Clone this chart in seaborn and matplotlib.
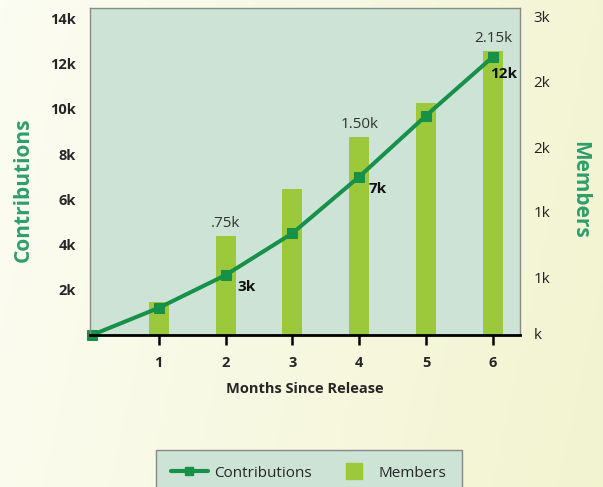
import numpy as np
import pandas as pd
import seaborn as sns
import matplotlib.pyplot as plt
from matplotlib.lines import Line2D

# data
months = [0, 1, 2, 3, 4, 5, 6]
contributions = [0, 1200, 2650, 4500, 7000, 9700, 12300]
bar_months = [1, 2, 3, 4, 5, 6]
members = [250, 750, 1110, 1500, 1760, 2150]

contrib_ticks = [2000, 4000, 6000, 8000, 10000, 12000, 14000]
contrib_labels = ["2k", "4k", "6k", "8k", "10k", "12k", "14k"]
member_ticks = [15, 440, 940, 1425, 1925, 2415]
member_labels = ["k", "1k", "1k", "2k", "2k", "3k"]

bar_notes = {2: ".75k", 4: "1.50k", 6: "2.15k"}
line_notes = {2: "3k", 4: "7k", 6: "12k"}
line_note_offsets = {2: (12, -12), 4: (9, -12), 6: (-3, -17)}

line_color = "#17904a"
bar_color = "#9cc93c"
face = "#cce3d6"
label_green = "#2e9e6c"

sns.set_theme(style="white")
plt.rcParams["font.family"] = ["Open Sans", "DejaVu Sans"]

fig = plt.figure(figsize=(6.03, 4.87), dpi=100)

# soft background gradient, light on the left, pale yellow on the right
bg = fig.add_axes([0, 0, 1, 1], zorder=-10)
gx, gy = np.meshgrid(np.linspace(0, 1, 200), np.linspace(0, 1, 200))
t = np.clip(gx * 0.85 + gy * 0.15, 0, 1)[..., None]
c0 = np.array([0.988, 0.992, 0.95])
c1 = np.array([0.95, 0.955, 0.815])
bg.imshow(c0 * (1 - t) + c1 * t, aspect="auto", extent=[0, 1, 0, 1], origin="upper")
bg.set_axis_off()

ax = fig.add_axes([0.149, 0.312, 0.713, 0.671])
ax2 = ax.twinx()

df_bar = pd.DataFrame({"month": bar_months, "members": members})
sns.barplot(data=df_bar, x="month", y="members", native_scale=True, width=0.3,
            color=bar_color, saturation=1, errorbar=None, linewidth=0,
            edgecolor=bar_color, ax=ax2)

df_line = pd.DataFrame({"month": months, "contributions": contributions})
sns.lineplot(data=df_line, x="month", y="contributions", ax=ax, color=line_color,
             lw=2.9, marker="s", markersize=6.5, markeredgecolor=line_color,
             clip_on=False)

ax.set_zorder(ax2.get_zorder() + 1)
ax.patch.set_visible(False)
ax2.patch.set_visible(True)
ax2.set_facecolor(face)

ax.set_xlim(-0.03, 6.4)
ax.set_ylim(0, 14440)
ax2.set_ylim(0, 2477)

ax.set_xticks(bar_months)
ax.set_xticklabels([str(m) for m in bar_months], fontweight="bold", fontsize=10.5)
ax.set_yticks(contrib_ticks)
ax.set_yticklabels(contrib_labels, fontweight="bold", fontsize=10.5)
ax2.set_yticks(member_ticks)
ax2.set_yticklabels(member_labels, fontsize=11, color="#222222")

ax.tick_params(axis="x", direction="out", length=7, width=1.8, color="black", pad=8,
               bottom=True)
ax.tick_params(axis="y", length=0, pad=10)
ax2.tick_params(axis="y", length=0, pad=10)

for s in ["left", "top", "right"]:
    ax.spines[s].set_color("#8a8a8a")
    ax.spines[s].set_linewidth(1)
ax.spines["bottom"].set_color("black")
ax.spines["bottom"].set_linewidth(2)
for s in ax2.spines.values():
    s.set_visible(False)

ax.set_xlabel("Months Since Release", fontweight="bold", fontsize=10.5, labelpad=9)
ax.set_ylabel("")
ax2.set_ylabel("")
fig.text(0.038, 0.61, "Contributions", rotation=90, ha="center", va="center",
         fontsize=15, fontweight="bold", color=label_green)
fig.text(0.962, 0.61, "Members", rotation=270, ha="center", va="center",
         fontsize=15, fontweight="bold", color=label_green)

for m, txt in bar_notes.items():
    ax2.annotate(txt, (m, members[bar_months.index(m)]), xytext=(0, 5),
                 textcoords="offset pixels", ha="center", va="bottom",
                 fontsize=11, color="#333333")
for m, txt in line_notes.items():
    dx, dy = line_note_offsets[m]
    ax.annotate(txt, (m, contributions[months.index(m)]), xytext=(dx, dy),
                textcoords="offset pixels", ha="left", va="center",
                fontsize=11, fontweight="bold", color="#111111")

handles = [
    Line2D([], [], color=line_color, lw=3, marker="s", markersize=6),
    Line2D([], [], color=bar_color, ls="", marker="s", markersize=11),
]
leg = fig.legend(handles, ["Contributions", "Members"], loc="upper center",
                 bbox_to_anchor=(0.512, 0.091), ncol=2, frameon=True,
                 facecolor=face, edgecolor="#888888", fancybox=False,
                 framealpha=1, fontsize=11, handlelength=2.4,
                 handletextpad=0.4, columnspacing=1.6, borderpad=1.0)
leg.get_frame().set_linewidth(1)

fig.savefig("out.png", dpi=100)
